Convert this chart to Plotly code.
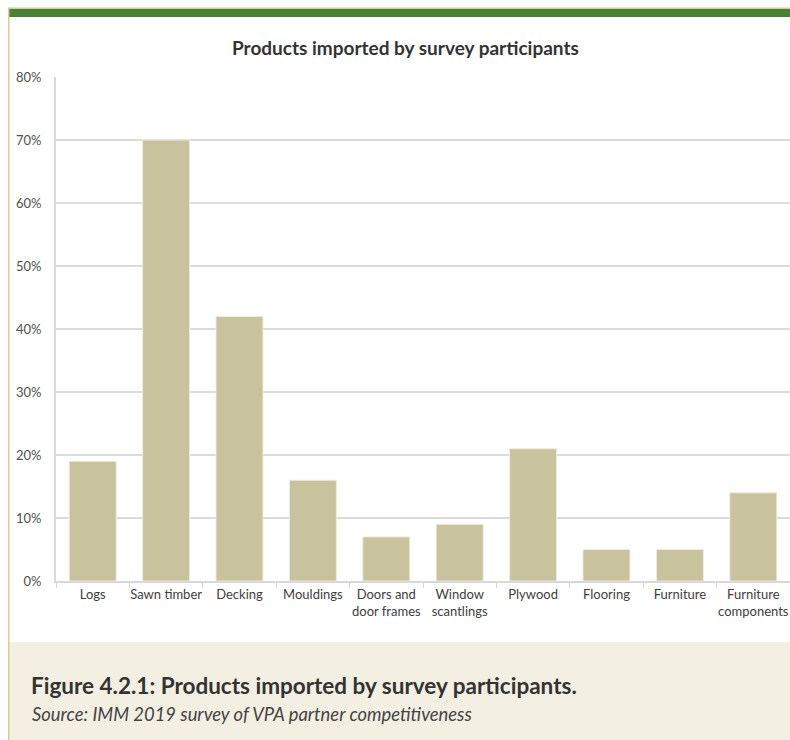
import plotly.graph_objects as go

categories = ["Logs", "Sawn timber", "Decking", "Mouldings", "Doors and<br>door frames",
              "Window<br>scantlings", "Plywood", "Flooring", "Furniture", "Furniture<br>components"]
values = [19, 70, 42, 16, 7, 9, 21, 5, 5, 14]
y_ticks = [0, 10, 20, 30, 40, 50, 60, 70, 80]
y_tick_labels = [f"{v}%" for v in y_ticks]

W, H = 790, 740
L, T, B = 56, 77, 159
PW, PH = W - L, H - T - B


def px_x(x):
    return (x - L) / PW


def px_y(y):
    return (H - B - y) / PH


FONT = "Lato, Noto Sans, sans-serif"

fig = go.Figure()
fig.add_trace(go.Bar(
    x=categories, y=values,
    marker=dict(color="#C8C39D", line=dict(color="#EEECE0", width=1)),
    hoverinfo="x+y",
))

fig.update_layout(
    width=W, height=H,
    margin=dict(l=L, r=0, t=T, b=B, pad=0),
    paper_bgcolor="white", plot_bgcolor="white",
    bargap=0.36,
    showlegend=False,
    font=dict(family=FONT, size=13, color="#404040"),
    xaxis=dict(
        showline=True, linecolor="#D9D9D9", linewidth=2,
        ticks="outside", tickson="boundaries", ticklen=5, tickcolor="#D9D9D9", tickwidth=1,
        tickangle=0, tickfont=dict(size=13, color="#404040"),
        showgrid=False, fixedrange=True,
    ),
    yaxis=dict(
        range=[0, 80], tickvals=y_ticks, ticktext=y_tick_labels,
        showline=True, linecolor="#D9D9D9", linewidth=2,
        showgrid=True, gridcolor="#DCDCDC", gridwidth=2,
        zeroline=False, ticks="", ticklabelstandoff=10,
        tickfont=dict(size=13, color="#505050"), fixedrange=True,
    ),
    shapes=[
        dict(type="rect", xref="paper", yref="paper", layer="below",
             x0=px_x(9), x1=1, y0=px_y(H), y1=px_y(642),
             fillcolor="#F3EFE3", line=dict(width=0)),
        dict(type="rect", xref="paper", yref="paper", layer="above",
             x0=px_x(8), x1=1, y0=px_y(9), y1=px_y(7.5),
             fillcolor="#D6CD9C", line=dict(width=0)),
        dict(type="rect", xref="paper", yref="paper", layer="above",
             x0=px_x(8), x1=1, y0=px_y(17), y1=px_y(9),
             fillcolor="#4A8034", line=dict(width=0)),
        dict(type="rect", xref="paper", yref="paper", layer="above",
             x0=px_x(8), x1=px_x(9.5), y0=px_y(H), y1=px_y(7.5),
             fillcolor="#D6CD9C", line=dict(width=0)),
    ],
    annotations=[
        dict(text="<b>Products imported by survey participants</b>", xref="paper", yref="paper",
             x=px_x(405), y=px_y(48), xanchor="center", yanchor="middle",
             showarrow=False, font=dict(size=19, color="#333333", family=FONT)),
        dict(text="<b>Figure 4.2.1: Products imported by survey participants.</b>", xref="paper", yref="paper",
             x=px_x(29), y=px_y(685), xanchor="left", yanchor="middle",
             showarrow=False, font=dict(size=22.5, color="#333333", family=FONT)),
        dict(text="<i>Source: IMM 2019 survey of VPA partner competitiveness</i>", xref="paper", yref="paper",
             x=px_x(29.5), y=px_y(714), xanchor="left", yanchor="middle",
             showarrow=False, font=dict(size=18.4, color="#444444", family=FONT)),
    ],
)

fig.write_html(
    "out.html",
    config={"displayModeBar": False},
    post_script="document.body.style.margin='0';document.body.style.overflow='hidden';",
)
